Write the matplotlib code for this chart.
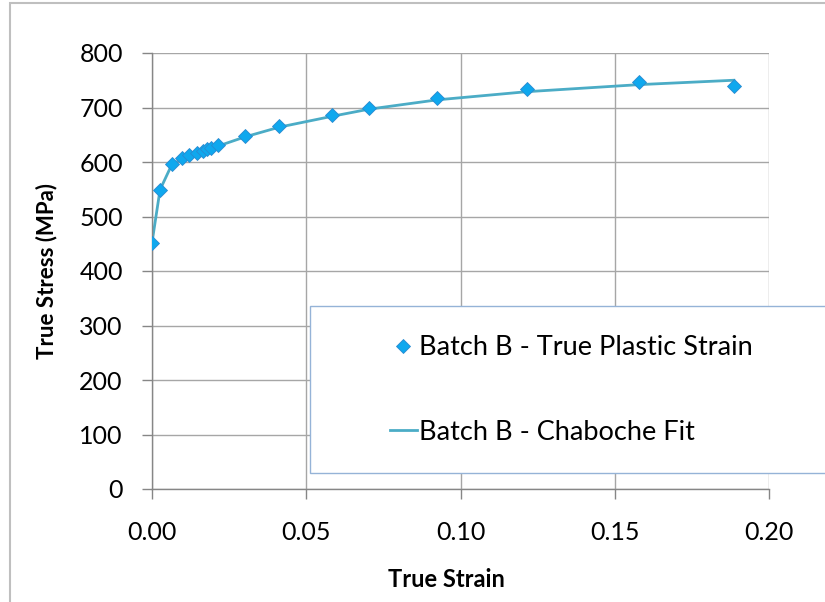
import matplotlib
matplotlib.use("Agg")
import matplotlib.pyplot as plt
from matplotlib.patches import Rectangle

plt.rcParams['font.family'] = ['Lato', 'DejaVu Sans']

# measured true plastic strain vs stress, and the Chaboche fit at the same strains
strain = [0.0, 0.0026, 0.0064, 0.0098, 0.0120, 0.0145, 0.0164, 0.0177, 0.0191,
          0.0213, 0.0301, 0.0413, 0.0585, 0.0704, 0.0924, 0.1215, 0.1580, 0.1886]
stress_test = [452, 549, 596, 608, 613, 616, 620, 623, 626,
               632, 648, 666, 687, 700, 717, 734, 746, 740]
stress_fit = [452, 549, 595, 606, 611, 615, 619, 621, 624,
              629, 646, 664, 684, 697, 714, 729, 742, 750]

label_test = "Batch B - True Plastic Strain"
label_fit = "Batch B - Chaboche Fit"

fig = plt.figure(figsize=(8.25, 6.02), dpi=100)
ax = fig.add_axes([152 / 825, 1 - 489 / 602, 617 / 825, 436 / 602])

line_fit, = ax.plot(strain, stress_fit, color="#4bacc6", lw=2.0, zorder=2)
pts, = ax.plot(strain, stress_test, ls="none", marker="D", ms=7.5,
               mfc="#0fa8ee", mec="#2a8ad0", mew=0.6, zorder=3)

ax.set_xlim(0, 0.2)
ax.set_ylim(0, 800)
ax.set_xticks([0, 0.05, 0.10, 0.15, 0.20])
ax.set_xticklabels(["0.00", "0.05", "0.10", "0.15", "0.20"])
ax.set_yticks(range(0, 801, 100))
ax.grid(True, color="#a6a6a6", lw=1.0)
ax.set_axisbelow(True)
for side in ["top", "right"]:
    ax.spines[side].set_visible(False)
for side in ["left", "bottom"]:
    ax.spines[side].set_color("#868686")
    ax.spines[side].set_linewidth(1.0)
ax.tick_params(axis="both", direction="out", length=7, width=1.0,
               color="#868686", labelsize=18, labelcolor="black")
ax.tick_params(axis="y", pad=14)
ax.tick_params(axis="x", pad=16)

ax.set_xlabel("True Strain", fontsize=17, fontweight="bold")
ax.xaxis.set_label_coords(0.478, -0.182)
ax.set_ylabel("True Stress (MPa)", fontsize=16, fontweight="bold", labelpad=16)

# legend box anchored in the lower right, running off the chart edge
fig.patches.append(Rectangle((310 / 825, 1 - 473 / 602), 0.7, 167 / 602,
                             transform=fig.transFigure, facecolor="white",
                             edgecolor="#95b3d7", lw=1.0, zorder=5))
leg = fig.legend([pts, line_fit], [label_test, label_fit],
                 loc="center left", bbox_to_anchor=(376 / 825, 1 - 390 / 602),
                 frameon=False, fontsize=19.5, handlelength=1.0,
                 handletextpad=0.1, labelspacing=2.2, borderpad=0)
leg.set_zorder(6)

# outer chart border
fig.patches.append(Rectangle((10 / 825, -0.05), 1.0, 1 - 3 / 602 + 0.05,
                             transform=fig.transFigure, facecolor="none",
                             edgecolor="#bfbfbf", lw=1.5, zorder=0))

fig.savefig("out.png", dpi=100)
